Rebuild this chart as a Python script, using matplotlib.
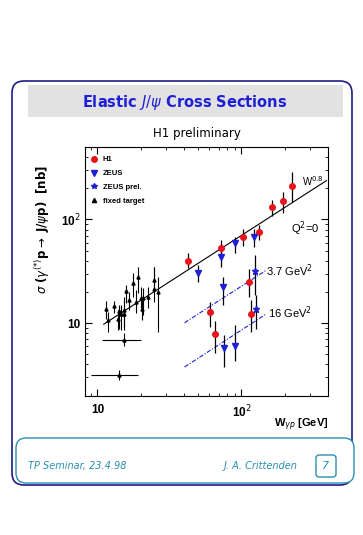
import numpy as np
import matplotlib
matplotlib.use("Agg")
import matplotlib.pyplot as plt
from matplotlib.patches import FancyBboxPatch, Rectangle
from matplotlib.lines import Line2D

plt.rcParams['font.family'] = ['Liberation Sans', 'DejaVu Sans']
plt.rcParams['mathtext.fontset'] = 'dejavusans'

# H1 points (Q2 = 0, 3.7 and 16 GeV2)
h1_w = [42.5, 72.6, 103, 133, 164, 195, 226, 113, 60.1, 116, 65.2]
h1_sig = [39.8, 53.6, 68, 76, 131, 152, 212, 25.1, 12.8, 12.3, 7.84]
h1_lo = [33.9, 43.2, 55.1, 63.0, 109, 115, 147, 18.0, 9.16, 8.3, 5.16]
h1_hi = [47.2, 63.0, 80.2, 87.7, 154.5, 183, 284, 33.2, 16.1, 16.7, 10.6]

# ZEUS points
zeus_w = [49.9, 71.8, 90, 122, 74.5, 75.3, 90.2]
zeus_sig = [30.5, 43.6, 59.3, 68, 22.4, 5.71, 5.97]
zeus_lo = [25.1, 34.9, 47.5, 53.9, 15.0, 3.78, 4.29]
zeus_hi = [36.2, 54.2, 67.2, 80.2, 28.0, 7.72, 9.63]

# ZEUS preliminary
zprel_w = [124, 126]
zprel_sig = [31.9, 13.6]
zprel_lo = [18.7, 8.76]
zprel_hi = [45.2, 18.7]

# fixed target experiments
ft_w = [11.5, 11.9, 13.0, 13.9, 14.2, 14.7, 15.2, 15.4, 15.7, 16.7, 17.8,
        18.4, 19.0, 20.0, 20.5, 20.65, 22.6, 24.6, 24.8, 26.4]
ft_sig = [13.8, 10.75, 14.6, 10.9, 13.2, 12.3, 12.3, 13.4, 20.5, 16.7, 24.5,
          16.1, 28.0, 17.5, 13.7, 17.5, 18.0, 21.6, 26.0, 20.0]
ft_lo = [10.9, 8.3, 12.5, 8.6, 8.76, 8.6, 9.27, 8.6, 15.6, 13.4, 18.0,
         12.5, 19.4, 13.9, 10.8, 12.0, 13.9, 16.1, 19.4, 8.3]
ft_hi = [16.5, 12.9, 16.5, 13.4, 15.0, 15.0, 14.4, 18.0, 23.3, 20.1, 30.5,
         20.9, 34.9, 22.4, 18.0, 21.7, 22.4, 34.9, 34.9, 28.0]

# fixed target points with a W range
ftx_w = [15.2, 14.1]
ftx_wlo = [10.7, 9.04]
ftx_whi = [20.0, 19.2]
ftx_sig = [6.92, 3.17]
ftx_lo = [5.97, 2.86]
ftx_hi = [8.0, 3.51]

# fit lines
fit_w = [11.06, 390]
fit_sig = [9.78, 237]
q37_w = [40.3, 149]
q37_sig = [10.1, 32.4]
q16_w = [40.3, 148]
q16_sig = [3.78, 12.2]

red = '#e8131b'
blue = '#1f1fd6'
navy = '#1c1c8a'
teal = '#2a8fb0'
wide = ['DejaVu Sans']


def yerr(sig, lo, hi):
    sig = np.array(sig)
    return [sig - np.array(lo), np.array(hi) - sig]


fig = plt.figure(figsize=(3.63, 5.35), dpi=100)

# slide decoration in pixel coordinates
bg = fig.add_axes([0, 0, 1, 1])
bg.set_xlim(0, 363)
bg.set_ylim(535, 0)
bg.axis('off')
bg.add_patch(FancyBboxPatch((12, 81), 340, 404, boxstyle="round,pad=0,rounding_size=12",
                            fc='white', ec=navy, lw=1.2))
bg.add_patch(Rectangle((28, 85), 315, 32, fc='#e2e2e2', ec='none'))
bg.text(185, 102, r"Elastic $\mathit{J/\psi}$ Cross Sections", color=blue, fontsize=10.5,
        fontweight='bold', ha='center', va='center', family=wide)
bg.text(197, 133, "H1 preliminary", fontsize=8.5, ha='center', va='center', family=wide)
bg.add_patch(FancyBboxPatch((16, 438), 338, 45, boxstyle="round,pad=0,rounding_size=10",
                            fc='white', ec=teal, lw=1.0))
bg.text(28, 466, "TP Seminar, 23.4.98", color=teal, fontsize=7, style='italic',
        ha='left', va='center', family=wide)
bg.text(261, 466, "J. A. Crittenden", color=teal, fontsize=7, style='italic',
        ha='center', va='center', family=wide)
bg.add_patch(FancyBboxPatch((316, 455), 20, 22, boxstyle="round,pad=0,rounding_size=3",
                            fc='white', ec=teal, lw=1.0))
bg.text(326, 466, "7", color=teal, fontsize=8, style='italic', ha='center', va='center',
        family=wide)

ax = fig.add_axes([85 / 363, 1 - 395.7 / 535, 243 / 363, 248.7 / 535])
ax.set_xscale('log')
ax.set_yscale('log')
ax.set_xlim(8.2, 400)
ax.set_ylim(2, 500)

ax.plot(fit_w, fit_sig, color='black', lw=0.8)
ax.plot(q37_w, q37_sig, color=blue, lw=0.8, ls=(0, (4, 1.5, 1, 1.5)))
ax.plot(q16_w, q16_sig, color=blue, lw=0.8, ls=(0, (4, 1.5, 1, 1.5)))

ax.errorbar(ft_w, ft_sig, yerr=yerr(ft_sig, ft_lo, ft_hi), fmt='^', ms=2.2,
            color='black', ecolor='black', elinewidth=0.8, capsize=0)
ax.errorbar(ftx_w, ftx_sig, yerr=yerr(ftx_sig, ftx_lo, ftx_hi),
            xerr=yerr(ftx_w, ftx_wlo, ftx_whi), fmt='^', ms=2.2,
            color='black', ecolor='black', elinewidth=0.8, capsize=0)
ax.errorbar(h1_w, h1_sig, yerr=yerr(h1_sig, h1_lo, h1_hi), fmt='o', ms=4,
            color=red, ecolor='black', elinewidth=0.9, capsize=0, zorder=4)
ax.errorbar(zeus_w, zeus_sig, yerr=yerr(zeus_sig, zeus_lo, zeus_hi), fmt='v', ms=4,
            color=blue, ecolor='black', elinewidth=0.9, capsize=0, zorder=4)
ax.errorbar(zprel_w, zprel_sig, yerr=yerr(zprel_sig, zprel_lo, zprel_hi), fmt='*', ms=4.5,
            color=blue, ecolor='black', elinewidth=0.9, capsize=0, zorder=4)

ax.text(313, 181, r"W$^{0.8}$", fontsize=7, ha='center', va='center',
        transform=bg.transData)
ax.text(305, 229, r"Q$^2$=0", fontsize=8, ha='center', va='center',
        transform=bg.transData)
ax.text(290, 271, r"3.7 GeV$^2$", fontsize=8, ha='center', va='center',
        transform=bg.transData)
ax.text(290, 313, r"16 GeV$^2$", fontsize=8, ha='center', va='center',
        transform=bg.transData)

handles = [
    Line2D([], [], marker='o', color=red, ls='none', ms=4),
    Line2D([], [], marker='v', color=blue, ls='none', ms=4),
    Line2D([], [], marker='*', color=blue, ls='none', ms=4),
    Line2D([], [], marker='^', color='black', ls='none', ms=3),
]
ax.legend(handles, ["H1", "ZEUS", "ZEUS prel.", "fixed target"], loc='upper left',
          bbox_to_anchor=(0.0, 0.985), frameon=False, handlelength=1.0,
          handletextpad=0.6, labelspacing=0.85, borderaxespad=0.3,
          prop={'weight': 'bold', 'size': 5.5})

ax.tick_params(which='both', direction='in', top=True, right=True, labelsize=8.5)
ax.tick_params(which='major', length=5)
ax.tick_params(which='minor', length=2.5)
ax.tick_params(axis='x', which='major', pad=6)
ax.set_xticks([10, 100])
ax.set_xticklabels(["10", r"10$^2$"], fontweight='bold')
ax.set_yticks([10, 100])
ax.set_yticklabels(["10", r"10$^2$"], fontweight='bold')

ax.set_ylabel(r"$\sigma$ ($\gamma^{(*)}$p$\rightarrow$ J/$\psi$p)  [nb]", fontsize=8.5,
              fontweight='bold', family=wide)
ax.yaxis.set_label_coords(-0.135, 0.67)
ax.set_xlabel(r"W$_{\gamma p}$ [GeV]", fontsize=8, fontweight='bold')
ax.xaxis.set_label_coords(0.89, -0.085)

fig.savefig("out.png", dpi=100)
